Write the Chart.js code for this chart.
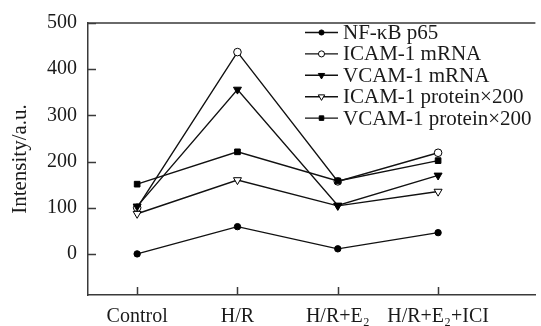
<!DOCTYPE html>
<html>
<head>
<meta charset="utf-8">
<script src="https://cdn.jsdelivr.net/npm/chart.js@4/dist/chart.umd.min.js"></script>
<style>
  html, body { margin: 0; padding: 0; background: #fff; }
  #wrap { width: 541px; height: 326px; }
</style>
</head>
<body>
<div id="wrap"><canvas id="c" width="541" height="326"></canvas></div>
<script>
// ---- data ----
const categories = ['Control', 'H/R', 'H/R+E\u2082', 'H/R+E\u2082+ICI'];
const yTicks = [0, 100, 200, 300, 400, 500];
const nfkbP65 = [0, 59, 11, 46];
const icamMrna = [100, 437, 157, 219];
const vcamMrna = [103, 356, 105, 170];
const icamProtein = [87, 160, 104, 135];
const vcamProtein = [151, 221, 158, 202];
const seriesLabels = ['NF-\u03baB p65', 'ICAM-1 mRNA', 'VCAM-1 mRNA', 'ICAM-1 protein\u00d7200', 'VCAM-1 protein\u00d7200'];

const FONT = '"Liberation Serif", "Times New Roman", serif';
const INK = '#1a1a1a';
const AXIS = '#3a3a3a';

function pts(arr) { return arr.map((v, i) => ({ x: i, y: v })); }

function mk(label, values, style, filled, radius, rot, order) {
  return {
    label: label,
    data: pts(values),
    order: order,
    borderColor: '#111',
    borderWidth: 1.4,
    pointStyle: style,
    pointRotation: rot || 0,
    pointRadius: radius,
    pointBorderWidth: 1,
    pointBorderColor: '#000',
    pointBackgroundColor: filled ? '#000' : '#fff',
    tension: 0,
    fill: false
  };
}

// filled markers drawn on top of open ones (lower order = drawn later)
const datasets = [
  mk(seriesLabels[0], nfkbP65, 'circle', true, 3.2, 0, 0),
  mk(seriesLabels[1], icamMrna, 'circle', false, 3.8, 0, 3),
  mk(seriesLabels[2], vcamMrna, 'triangle', true, 4.6, 180, 1),
  mk(seriesLabels[3], icamProtein, 'triangle', false, 4.6, 180, 4),
  mk(seriesLabels[4], vcamProtein, 'rect', true, 4, 0, 2)
];

const framePlugin = {
  id: 'frame',
  afterDraw(chart) {
    const ctx = chart.ctx;
    const { left, top, right, bottom } = chart.chartArea;
    const xs = chart.scales.x, ys = chart.scales.y;
    ctx.save();
    ctx.strokeStyle = AXIS;
    ctx.lineWidth = 1.5;
    ctx.beginPath();
    ctx.moveTo(left, top);
    ctx.lineTo(right, top);
    ys.ticks.forEach(t => {
      const py = Math.round(ys.getPixelForValue(t.value)) + 0.5;
      ctx.moveTo(left, py); ctx.lineTo(left + 8, py);
    });
    xs.ticks.forEach(t => {
      const px = Math.round(xs.getPixelForValue(t.value)) + 0.5;
      ctx.moveTo(px, bottom); ctx.lineTo(px, bottom - 8);
    });
    ctx.stroke();
    ctx.restore();
  }
};

const legendPlugin = {
  id: 'insideLegend',
  afterDraw(chart) {
    const ctx = chart.ctx;
    const x0 = 305, x1 = 338, tx = 343, y0 = 32.5, dy = 21.4;
    chart.data.datasets.forEach((ds, i) => {
      const y = y0 + i * dy;
      ctx.save();
      ctx.strokeStyle = ds.borderColor;
      ctx.lineWidth = 1.4;
      ctx.beginPath();
      ctx.moveTo(x0, y); ctx.lineTo(x1, y);
      ctx.stroke();
      ctx.fillStyle = ds.pointBackgroundColor;
      ctx.strokeStyle = ds.pointBorderColor;
      ctx.lineWidth = 1;
      Chart.helpers.drawPoint(ctx, {
        pointStyle: ds.pointStyle,
        rotation: ds.pointRotation,
        radius: ds.pointRadius * 0.8,
        borderWidth: 1
      }, (x0 + x1) / 2, y);
      ctx.fillStyle = INK;
      ctx.font = '21px ' + FONT;
      ctx.textBaseline = 'middle';
      ctx.textAlign = 'left';
      ctx.fillText(ds.label, tx, y + 1);
      ctx.restore();
    });
  }
};

new Chart(document.getElementById('c'), {
  type: 'line',
  data: { datasets: datasets },
  options: {
    responsive: false,
    devicePixelRatio: 1,
    animation: false,
    layout: { padding: { top: 16, right: 0, left: 0, bottom: 0 } },
    plugins: {
      legend: { display: false },
      tooltip: { enabled: false }
    },
    scales: {
      x: {
        type: 'linear',
        min: -0.49,
        max: 3.97,
        grid: { display: false, drawTicks: false },
        border: { display: true, color: AXIS, width: 1.5 },
        afterBuildTicks: (s) => { s.ticks = categories.map((c, i) => ({ value: i })); },
        afterFit: (s) => { s.height = 31; },
        ticks: {
          autoSkip: false,
          maxRotation: 0,
          padding: 10,
          color: INK,
          font: { family: FONT, size: 20 },
          callback: (v) => categories[v]
        }
      },
      y: {
        type: 'linear',
        min: -89,
        max: 500,
        grid: { display: false, drawTicks: false },
        border: { display: true, color: AXIS, width: 1.5 },
        afterBuildTicks: (s) => { s.ticks = yTicks.map(v => ({ value: v })); },
        afterFit: (s) => { s.width = 88; },
        ticks: {
          padding: 11,
          color: INK,
          font: { family: FONT, size: 20 },
          callback: (v) => String(v)
        },
        title: {
          display: true,
          text: 'Intensity/a.u.',
          color: INK,
          font: { family: FONT, size: 21 },
          padding: { top: 8, bottom: 0 }
        }
      }
    }
  },
  plugins: [framePlugin, legendPlugin]
});
</script>
</body>
</html>
